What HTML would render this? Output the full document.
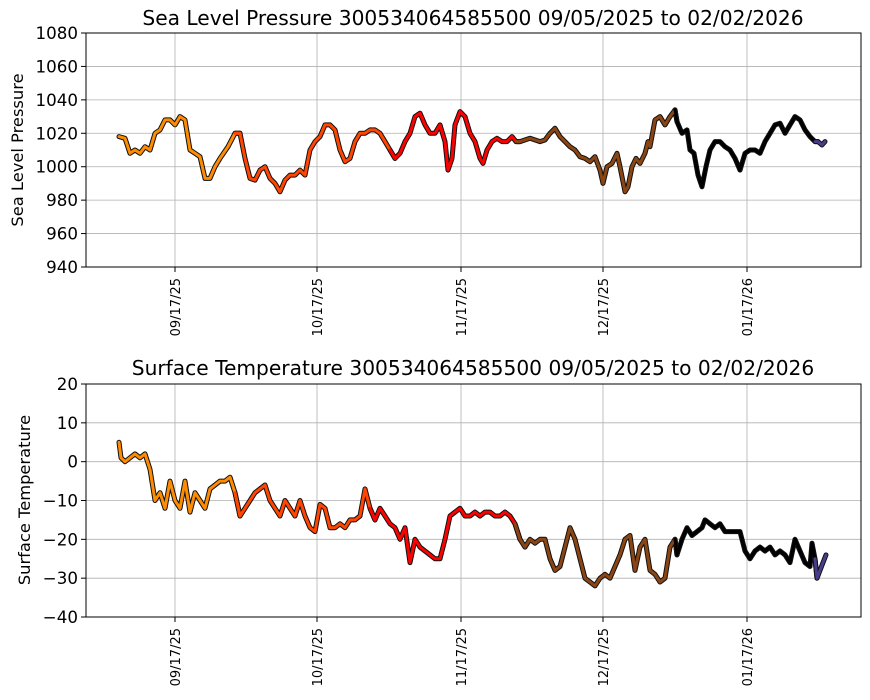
<!DOCTYPE html>
<html><head><meta charset="utf-8"><style>
html,body{margin:0;padding:0;background:#fff;}
svg{display:block;font-family:"DejaVu Sans","Liberation Sans",sans-serif;}
</style></head><body>
<svg id="s" width="870" height="700" xmlns="http://www.w3.org/2000/svg">
<rect width="870" height="700" fill="#fff"/>
<g id="grid" stroke="#b0b0b0" stroke-width="0.8"></g>
<g id="data"></g>
<rect x="86" y="33" width="775" height="234" fill="none" stroke="#000" stroke-width="1"/>
<rect x="86" y="384" width="775" height="233" fill="none" stroke="#000" stroke-width="1"/>
<text x="473" y="25" font-size="20.2" text-anchor="middle">Sea Level Pressure 300534064585500  09/05/2025 to 02/02/2026</text>
<text x="473" y="375" font-size="20.2" text-anchor="middle">Surface Temperature 300534064585500  09/05/2025 to 02/02/2026</text>
<text transform="translate(23,150) rotate(-90)" font-size="16.3" text-anchor="middle">Sea Level Pressure</text>
<text transform="translate(30,500) rotate(-90)" font-size="16.3" text-anchor="middle">Surface Temperature</text>
<g id="lab" font-size="16.7" text-anchor="end"></g>
</svg>
<script>
var NS="http://www.w3.org/2000/svg";
function el(t,a,p){var e=document.createElementNS(NS,t);for(var k in a)e.setAttribute(k,a[k]);p.appendChild(e);return e;}
var g=document.getElementById('grid'),lab=document.getElementById('lab'),d=document.getElementById('data');
var xs=[175,317,461,603,747],xl=["09/17/25","10/17/25","11/17/25","12/17/25","01/17/26"];
function axis(y0,y1,vmin,vmax,step){
 for(var v=vmin;v<=vmax;v+=step){var y=y1-(v-vmin)/(vmax-vmin)*(y1-y0);
  el('line',{x1:86,x2:861,y1:y,y2:y},g);el('line',{x1:81,x2:86,y1:y,y2:y,stroke:'#000'},lab);
  var t=el('text',{x:78,y:y+6},lab);t.textContent=(v<0?'\u2212'+(-v):v);}
 xs.forEach(function(x,i){el('line',{x1:x,x2:x,y1:y0,y2:y1},g);el('line',{x1:x,x2:x,y1:y1,y2:y1+5,stroke:'#000'},lab);
  var t=el('text',{transform:'translate('+(x+5)+','+(y1+11)+') rotate(-90)','font-size':'13'},lab);t.textContent=xl[i];});
}
axis(33,267,940,1080,20);axis(384,617,-40,20,10);
var P=[119,1018,125,1017,130,1008,135,1010,140,1008,145,1012,150,1010,155,1020,160,1022,165,1028,170,1028,175,1025,180,1030,185,1028,190,1010,195,1008,200,1006,205,993,210,993,215,1000,220,1005,228,1012,235,1020,240,1020,245,1005,250,993,255,992,260,998,265,1000,270,993,275,990,280,985,285,992,290,995,295,995,300,998,305,995,310,1010,315,1015,320,1018,325,1025,330,1025,335,1022,340,1010,345,1003,350,1005,355,1015,360,1020,365,1020,370,1022,375,1022,380,1020,385,1015,390,1010,395,1005,400,1008,405,1015,410,1020,415,1030,420,1032,425,1025,430,1020,435,1020,440,1025,445,1015,448,998,452,1005,455,1025,460,1033,465,1030,470,1020,475,1015,480,1005,483,1002,487,1010,492,1015,497,1017,502,1015,507,1015,512,1018,516,1015,520,1015,530,1017,540,1015,545,1016,550,1020,555,1023,560,1018,565,1015,570,1012,575,1010,580,1006,585,1005,590,1003,595,1006,600,998,603,990,607,1000,612,1002,617,1008,620,1000,625,985,628,988,632,1000,636,1005,640,1002,645,1008,648,1015,650,1012,655,1028,660,1030,665,1025,670,1030,675,1034,677,1027,682,1020,687,1022,690,1010,694,1008,698,995,702,988,706,1000,710,1010,715,1015,720,1015,725,1012,730,1010,735,1005,740,998,745,1008,750,1010,755,1010,760,1008,765,1015,770,1020,775,1025,780,1026,785,1020,790,1025,795,1030,800,1028,805,1022,810,1018,815,1015,818,1015,822,1013,825,1015];
var T=[119,5,121,1,125,0,130,1,135,2,140,1,145,2,150,-2,155,-10,160,-8,165,-12,170,-5,175,-10,180,-12,185,-5,190,-13,195,-8,200,-10,205,-12,210,-7,215,-6,220,-5,225,-5,230,-4,235,-8,240,-14,245,-12,250,-10,255,-8,260,-7,265,-6,270,-10,275,-12,280,-14,285,-10,290,-12,295,-14,300,-10,305,-14,310,-17,315,-18,320,-11,325,-12,330,-17,335,-17,340,-16,345,-17,350,-15,355,-15,360,-14,365,-7,370,-12,375,-15,380,-12,385,-14,390,-16,395,-17,400,-20,405,-17,410,-26,415,-20,420,-22,425,-23,430,-24,435,-25,440,-25,445,-20,450,-14,455,-13,460,-12,465,-14,470,-14,475,-13,480,-14,485,-13,490,-13,495,-14,500,-14,505,-13,510,-14,515,-16,520,-20,525,-22,530,-20,535,-21,540,-20,545,-20,550,-25,555,-28,560,-27,565,-22,570,-17,575,-20,580,-25,585,-30,590,-31,595,-32,600,-30,605,-29,610,-30,615,-27,620,-24,625,-20,630,-19,635,-28,640,-22,645,-20,650,-28,655,-29,660,-31,665,-30,670,-22,675,-20,677,-24,682,-20,687,-17,692,-19,697,-18,702,-17,705,-15,710,-16,715,-17,720,-16,725,-18,730,-18,735,-18,740,-18,745,-23,750,-25,755,-23,760,-22,765,-23,770,-22,775,-24,780,-23,785,-24,790,-26,795,-20,800,-23,805,-26,810,-27,812,-21,815,-25,817,-30,820,-28,823,-26,826,-24];
function col(x,b){for(var i=0;i<b.length;i++)if(x<b[i][0])return b[i][1];return '#483d8b';}
function draw(D,y0,y1,vmin,vmax,b){
 var pts=[];for(var i=0;i<D.length;i+=2)pts.push([D[i],y1-(D[i+1]-vmin)/(vmax-vmin)*(y1-y0)]);
 var segs=[],cur=null,cc=null;
 pts.forEach(function(p,i){var c=col(p[0],b);if(c!==cc){if(cur){cur.push(p);}cur=[];if(i>0)cur.push(pts[i-1]);segs.push([c,cur]);cc=c;}cur.push(p);});
 segs.forEach(function(s){var str=s[1].map(function(p){return p[0]+','+p[1].toFixed(1)}).join(' ');
  el('polyline',{points:str,fill:'none',stroke:'#111','stroke-width':5,'stroke-linejoin':'round','stroke-linecap':'round'},d);});
 segs.forEach(function(s){var str=s[1].map(function(p){return p[0]+','+p[1].toFixed(1)}).join(' ');
  el('polyline',{points:str,fill:'none',stroke:s[0],'stroke-width':3,'stroke-linejoin':'round','stroke-linecap':'round'},d);});
}
draw(P,33,267,940,1080,[[240,'#ff8c00'],[395,'#ff4500'],[520,'#ff0000'],[676,'#8b4513'],[816,'#000']]);
draw(T,384,617,-40,20,[[238,'#ff8c00'],[372,'#ff4500'],[520,'#ff0000'],[676,'#8b4513'],[816,'#000']]);
</script>
</body></html>
